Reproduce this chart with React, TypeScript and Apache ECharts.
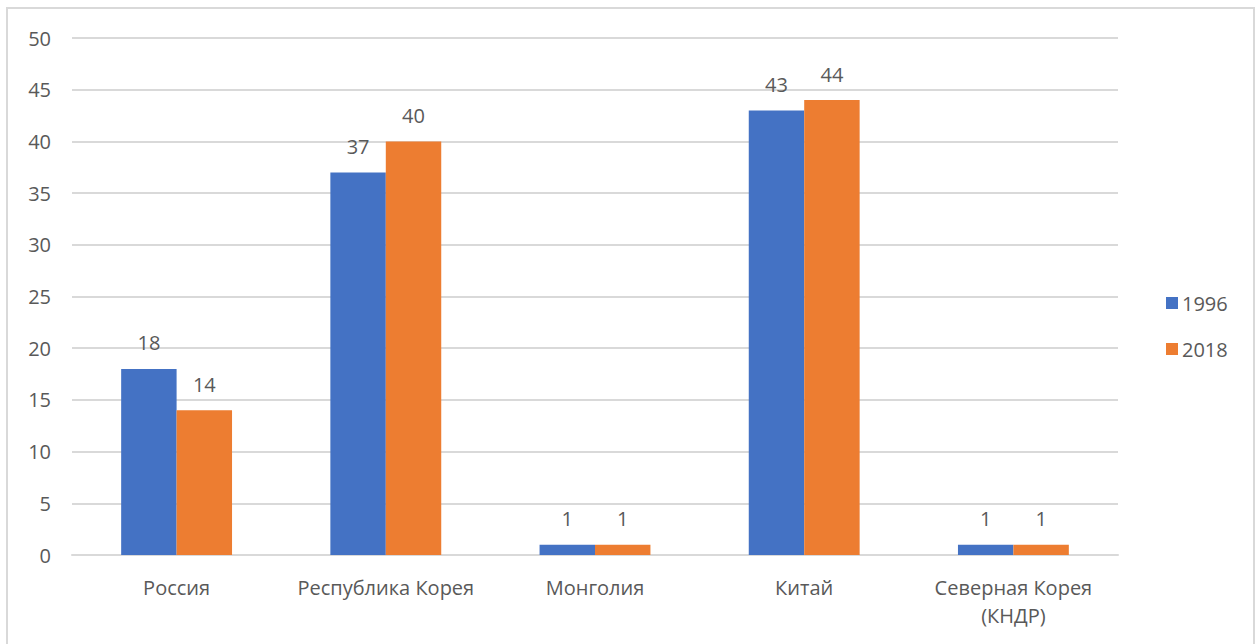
import React, { useEffect, useRef } from "react";
import * as echarts from "echarts";

const categories = ["Россия", "Республика Корея", "Монголия", "Китай", "Северная Корея\n(КНДР)"];
const series1996 = [18, 37, 1, 43, 1];
const series2018 = [14, 40, 1, 44, 1];
const seriesNames = ["1996", "2018"];

export default function App() {
  const ref = useRef<HTMLDivElement>(null);
  useEffect(() => {
    if (!ref.current) return;
    const chart = echarts.init(ref.current, null, { renderer: "svg" });
    const font = "'Open Sans', 'Noto Sans', sans-serif";
    const textColor = "#595959";
    const fs = 20;
    chart.setOption({
      animation: false,
      backgroundColor: "#ffffff",
      textStyle: { fontFamily: font },
      graphic: [
        {
          type: "rect",
          shape: { x: 7, y: 8, width: 1247, height: 660 },
          style: { fill: "none", stroke: "#d9d9d9", lineWidth: 2 },
          silent: true,
        },
      ],
      grid: { left: 72, right: 141, top: 38, bottom: 89, containLabel: false },
      legend: {
        orient: "vertical",
        left: 1161,
        top: 288,
        itemWidth: 12,
        itemHeight: 12,
        itemGap: 26,
        icon: "rect",
        textStyle: { fontSize: fs, height: 20, lineHeight: 20, color: textColor, fontFamily: font, padding: [0, 0, 0, -1] },
        data: seriesNames,
      },
      xAxis: {
        type: "category",
        data: categories,
        axisLine: { lineStyle: { color: "#d9d9d9", width: 2 } },
        axisTick: { show: false },
        axisLabel: { color: textColor, fontSize: fs, margin: 18, lineHeight: 28, fontFamily: font, interval: 0 },
      },
      yAxis: {
        type: "value",
        min: 0,
        max: 50,
        interval: 5,
        axisLine: { show: false },
        axisTick: { show: false },
        splitLine: { lineStyle: { color: "#d9d9d9", width: 2 } },
        axisLabel: { color: textColor, fontSize: fs, margin: 21, fontFamily: font },
      },
      series: [
        {
          name: seriesNames[0],
          type: "bar",
          data: series1996,
          itemStyle: { color: "#4472C4" },
          barGap: "0%",
          barCategoryGap: "47%",
          label: { show: true, position: "top", distance: 16, color: textColor, fontSize: fs, fontFamily: font },
        },
        {
          name: seriesNames[1],
          type: "bar",
          data: series2018,
          itemStyle: { color: "#ED7D31" },
          barGap: "0%",
          barCategoryGap: "47%",
          label: { show: true, position: "top", distance: 16, color: textColor, fontSize: fs, fontFamily: font },
        },
      ],
    });
    return () => chart.dispose();
  }, []);
  return (
    <div
      ref={ref}
      style={{ position: "absolute", left: 0, top: 0, width: 1259, height: 644 }}
    />
  );
}
